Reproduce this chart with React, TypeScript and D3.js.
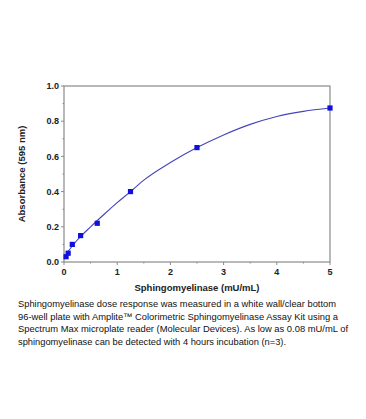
import React from 'react';
import * as d3 from 'd3';

// measured points (mU/mL vs absorbance at 595 nm)
const concentrations = [0.039, 0.078, 0.156, 0.3125, 0.625, 1.25, 2.5, 5];
const absorbance = [0.03, 0.05, 0.1, 0.15, 0.22, 0.4, 0.65, 0.875];

// fitted curve
const fitX = [0.039, 0.25, 0.5, 0.75, 1, 1.25, 1.5, 2, 2.5, 3, 3.5, 4, 4.5, 5];
const fitY = [0.045, 0.125, 0.2, 0.27, 0.337, 0.4, 0.465, 0.565, 0.65, 0.722, 0.782, 0.827, 0.856, 0.875];

const xTicks = [0, 1, 2, 3, 4, 5];
const yTicks = [0, 0.2, 0.4, 0.6, 0.8, 1.0];

const captionLines = [
  'Sphingomyelinase dose response was measured in a white wall/clear bottom',
  '96-well plate with Amplite\u2122 Colorimetric Sphingomyelinase Assay Kit using a',
  'Spectrum Max microplate reader (Molecular Devices). As low as 0.08 mU/mL of',
  'sphingomyelinase can be detected with 4 hours incubation (n=3).'
];
const captionWidths = [318, 320, 330, 268];

const App = () => {
  const width = 366;
  const height = 419;
  const margin = { top: 86, left: 64, right: 36, bottom: 157 };
  const plotW = width - margin.left - margin.right;
  const plotH = height - margin.top - margin.bottom;

  const x = d3.scaleLinear().domain([0, 5]).range([0, plotW]);
  const y = d3.scaleLinear().domain([0, 1]).range([plotH, 0]);

  const line = d3.line<number>()
    .x((d, i) => x(fitX[i]))
    .y((d) => y(d))
    .curve(d3.curveMonotoneX);

  const xMinor = d3.range(0.5, 5, 1);
  const yMinor = d3.range(0.1, 1, 0.2);
  const axisColor = '#8a8a8a';
  const font = 'Liberation Sans, Arial, sans-serif';

  return (
    <svg width={width} height={height} style={{ position: 'absolute', left: 0, top: 0, background: '#fff' }}>
      <g transform={`translate(${margin.left}, ${margin.top})`}>
        <rect x={0} y={0} width={plotW} height={plotH} fill='none' stroke={axisColor} strokeWidth={1.2} />
        {xTicks.map((t) => (
          <g key={`xt-${t}`}>
            <line x1={x(t)} x2={x(t)} y1={plotH} y2={plotH + 3} stroke={axisColor} />
            <text x={x(t)} y={plotH + 13} textAnchor='middle' fontSize={9} fontWeight='bold' fontFamily={font} fill='#222'>{t}</text>
          </g>
        ))}
        {xMinor.map((t) => (
          <line key={`xm-${t}`} x1={x(t)} x2={x(t)} y1={plotH} y2={plotH + 1.5} stroke={axisColor} />
        ))}
        {yTicks.map((t) => (
          <g key={`yt-${t}`}>
            <line x1={-3} x2={0} y1={y(t)} y2={y(t)} stroke={axisColor} />
            <text x={-5} y={y(t) + 3.2} textAnchor='end' fontSize={9} fontWeight='bold' fontFamily={font} fill='#222'>{t.toFixed(1)}</text>
          </g>
        ))}
        {yMinor.map((t) => (
          <line key={`ym-${t}`} x1={-1.5} x2={0} y1={y(t)} y2={y(t)} stroke={axisColor} />
        ))}
        <path d={line(fitY) || ''} fill='none' stroke='#4444bb' strokeWidth={1.1} />
        {concentrations.map((c, i) => (
          <rect key={`pt-${i}`} x={x(c) - 2.6} y={y(absorbance[i]) - 2.6} width={5.2} height={5.2} fill='#1010dd' />
        ))}
        <text x={plotW / 2} y={plotH + 29} textAnchor='middle' fontSize={9.5} fontWeight='bold' fontFamily={font} fill='#222'>Sphingomyelinase (mU/mL)</text>
        <text transform={`translate(${-39}, ${plotH / 2}) rotate(-90)`} textAnchor='middle' fontSize={9.5} fontWeight='bold' fontFamily={font} fill='#222'>Absorbance (595 nm)</text>
      </g>
      {captionLines.map((l, i) => (
        <text key={`cap-${i}`} x={18} y={307 + i * 12.5} fontSize={9.4} fontFamily={font} fill='#111'
          textLength={captionWidths[i]} lengthAdjust='spacingAndGlyphs'>{l}</text>
      ))}
    </svg>
  );
};

export default App;
